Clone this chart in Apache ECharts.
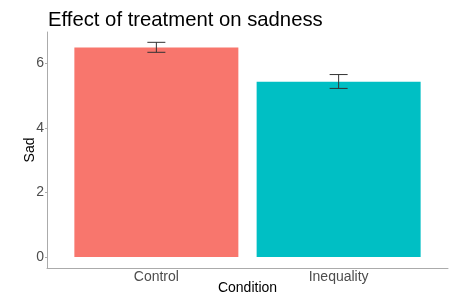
<!DOCTYPE html>
<html>
<head>
<meta charset="utf-8">
<script src="https://cdn.jsdelivr.net/npm/echarts@6/dist/echarts.min.js"></script>
<style>
  html, body { margin: 0; padding: 0; background: #fff; }
  #chart { width: 451px; height: 296px; }
</style>
</head>
<body>
<div id="chart"></div>
<script>
  // chart data
  const categories = ['Control', 'Inequality'];
  const meanSad = [6.5, 5.44];
  const lowerSad = [6.35, 5.23];
  const upperSad = [6.66, 5.66];
  const tickValues = [0, 2, 4, 6];
  const barColors = ['#F8766D', '#00BFC4'];

  const fontFamily = 'Liberation Sans, Arial, sans-serif';

  const chart = echarts.init(document.getElementById('chart'));

  const barData = categories.map((name, i) => ({
    value: [i + 1, meanSad[i]],
    itemStyle: { color: barColors[i] },
  }));
  const errData = categories.map((name, i) => [i + 1, lowerSad[i], upperSad[i]]);

  chart.setOption({
    animation: false,
    title: {
      text: 'Effect of treatment on sadness',
      left: 48,
      top: 10,
      padding: 0,
      textStyle: {
        fontFamily,
        fontSize: 20.3,
        fontWeight: 'normal',
        color: '#000',
      },
    },
    grid: {
      left: 47,
      right: 3,
      top: 32,
      bottom: 28,
      containLabel: false,
      outerBoundsMode: 'none',
    },
    xAxis: {
      type: 'value',
      min: 0.4,
      max: 2.6,
      name: 'Condition',
      nameLocation: 'middle',
      nameGap: 13,
      nameMoveOverlap: false,
      nameTextStyle: { fontFamily, fontSize: 14, color: '#000' },
      splitLine: { show: false },
      axisLine: { onZero: false, lineStyle: { color: '#ababab', width: 1 } },
      axisTick: { show: false },
      axisLabel: {
        customValues: [1, 2],
        formatter: (v) => categories[Math.round(v) - 1] || '',
        fontFamily,
        fontSize: 14,
        color: '#4d4d4d',
        margin: 2,
      },
    },
    yAxis: {
      type: 'value',
      min: -0.34,
      max: 6.98,
      name: 'Sad',
      nameLocation: 'middle',
      nameGap: 10,
      nameMoveOverlap: false,
      nameTextStyle: { fontFamily, fontSize: 14, color: '#000' },
      splitLine: { show: false },
      axisLine: { show: true, onZero: false, lineStyle: { color: '#ababab', width: 1 } },
      axisTick: {
        show: true,
        customValues: tickValues,
        length: 2,
        lineStyle: { color: '#ababab' },
      },
      axisLabel: {
        customValues: tickValues,
        fontFamily,
        fontSize: 14,
        color: '#4d4d4d',
        margin: 3,
      },
    },
    series: [
      {
        type: 'bar',
        data: barData,
        barWidth: 164,
      },
      {
        type: 'custom',
        data: errData,
        renderItem(params, api) {
          const x = api.value(0);
          const lo = api.coord([x, api.value(1)]);
          const hi = api.coord([x, api.value(2)]);
          const half = 9;
          const style = { stroke: '#333', lineWidth: 1 };
          return {
            type: 'group',
            children: [
              { type: 'line', shape: { x1: hi[0], y1: hi[1], x2: lo[0], y2: lo[1] }, style },
              { type: 'line', shape: { x1: hi[0] - half, y1: hi[1], x2: hi[0] + half, y2: hi[1] }, style },
              { type: 'line', shape: { x1: lo[0] - half, y1: lo[1], x2: lo[0] + half, y2: lo[1] }, style },
            ],
          };
        },
        z: 5,
      },
    ],
  });
</script>
</body>
</html>
